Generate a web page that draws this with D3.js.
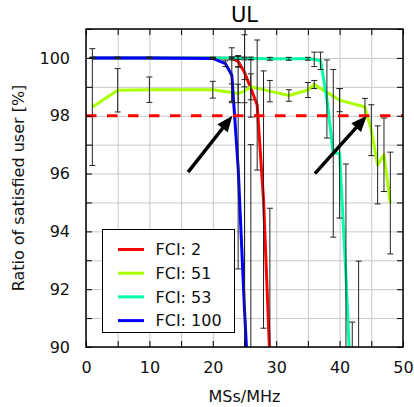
<!DOCTYPE html>
<meta charset="utf-8">
<body>
<script src="https://cdn.jsdelivr.net/npm/d3@7"></script>
<style>
    html, body {
        margin: 0;
        background: #fff;
    }
    text {
        font-family: "DejaVu Sans", sans-serif;
    }
</style>
<script>
// values
var fci2X = [1, 5, 10, 20, 23, 24, 25, 26, 27, 28, 29],
    fci2Y = [100, 100, 100, 100, 99.98, 99.88, 99.5, 98.95, 98.37, 95.1, 89.6],
    fci2E = [0.02, 0.02, 0.02, 0.02, 0.05, 0.2, 0.5, 1.0, 2.25, 4.45, 5.2];

var fci51X = [1, 5, 10, 20, 23, 24, 25, 26, 29, 32, 35, 36, 40, 44, 45, 46, 47, 48],
    fci51Y = [98.3, 98.88, 98.9, 98.9, 98.8, 98.77, 98.85, 99.0, 98.85, 98.7, 98.89, 99.08, 98.54, 98.3, 97.5, 96.3, 96.65, 94.98],
    fci51E = [2.02, 0.75, 0.44, 0.29, 0.3, 0.32, 0.4, 0.45, 0.37, 0.2, 0.26, 0.14, 0.4, 0.3, 0.88, 1.35, 1.27, 1.76];

var fci53X = [1, 5, 10, 20, 23, 24, 25, 26, 29, 32, 35, 36, 37, 38, 39, 40, 41, 42, 43],
    fci53Y = [100, 100, 100, 100, 100, 100, 99.98, 99.98, 99.97, 99.97, 99.97, 99.95, 99.9, 98.58, 96.7, 96.7, 92.5, 87.5, 85],
    fci53E = [0.02, 0.02, 0.02, 0.02, 0.03, 0.05, 0.05, 0.05, 0.05, 0.05, 0.05, 0.25, 0.3, 1.35, 2.9, 2.24, 3.83, 3.36, 7.97];

var fci100X = [1, 5, 10, 20, 22, 23, 24, 25, 26],
    fci100Y = [100, 100, 100, 99.98, 99.8, 99.4, 96.2, 91.3, 87],
    fci100E = [0.02, 0.02, 0.02, 0.03, 0.1, 0.95, 3.5, 9.5, 10];

var seriesNames = ["FCI: 2", "FCI: 51", "FCI: 53", "FCI: 100"],
    seriesColors = ["#ff0000", "#aaff00", "#00ffaa", "#0000ff"];

var threshold = 98;
var arrowFrom = [[16.1, 96.05], [36.1, 96.0]],
    arrowTo = [[23.1, 98.0], [44.3, 98.0]];

var xTicks = d3.range(0, 51, 5),
    yTicks = d3.range(90, 102, 1);

var W = 414, H = 407,
    pLeft = 86, pRight = 403, pTop = 29, pBottom = 347;

var series = [
    {x: fci2X, y: fci2Y, e: fci2E},
    {x: fci51X, y: fci51Y, e: fci51E},
    {x: fci53X, y: fci53Y, e: fci53E},
    {x: fci100X, y: fci100Y, e: fci100E}
].map(function(s, i) {
    return {
        name: seriesNames[i],
        color: seriesColors[i],
        points: s.x.map(function(v, j) { return {x: v, y: s.y[j], e: s.e[j]}; })
    };
});

var x = d3.scaleLinear().domain([0, 50]).range([pLeft, pRight]),
    y = d3.scaleLinear().domain([90, 101]).range([pBottom, pTop]);

var svg = d3.select("body").append("svg")
    .attr("width", W)
    .attr("height", H);

svg.append("defs").append("clipPath").attr("id", "plot")
    .append("rect")
    .attr("x", pLeft).attr("y", pTop)
    .attr("width", pRight - pLeft).attr("height", pBottom - pTop);

// grid
svg.append("g")
    .attr("transform", "translate(0," + pBottom + ")")
    .call(d3.axisBottom(x).tickValues(xTicks).tickSize(-(pBottom - pTop)).tickFormat(""))
    .call(function(g) {
        g.select(".domain").remove();
        g.selectAll("line").attr("stroke", "#c8c8c8");
    });
svg.append("g")
    .attr("transform", "translate(" + pLeft + ",0)")
    .call(d3.axisLeft(y).tickValues(yTicks).tickSize(-(pRight - pLeft)).tickFormat(""))
    .call(function(g) {
        g.select(".domain").remove();
        g.selectAll("line").attr("stroke", "#c8c8c8");
    });

var plot = svg.append("g").attr("clip-path", "url(#plot)");

var line = d3.line()
    .x(function(d) { return x(d.x); })
    .y(function(d) { return y(d.y); });

plot.selectAll(".series")
    .data(series)
    .enter().append("path")
    .attr("class", "series")
    .attr("fill", "none")
    .attr("stroke", function(d) { return d.color; })
    .attr("stroke-width", 3)
    .attr("stroke-linejoin", "round")
    .attr("d", function(d) { return line(d.points); });

// error bars
var bars = plot.selectAll(".bars")
    .data(series)
    .enter().append("g")
    .selectAll("g")
    .data(function(d) { return d.points; })
    .enter().append("g")
    .attr("stroke", "#222")
    .attr("stroke-width", 1);

bars.append("line")
    .attr("x1", function(d) { return x(d.x); })
    .attr("x2", function(d) { return x(d.x); })
    .attr("y1", function(d) { return y(d.y + d.e); })
    .attr("y2", function(d) { return y(d.y - d.e); });
bars.append("line")
    .attr("x1", function(d) { return x(d.x) - 3; })
    .attr("x2", function(d) { return x(d.x) + 3; })
    .attr("y1", function(d) { return y(d.y + d.e); })
    .attr("y2", function(d) { return y(d.y + d.e); });
bars.append("line")
    .attr("x1", function(d) { return x(d.x) - 3; })
    .attr("x2", function(d) { return x(d.x) + 3; })
    .attr("y1", function(d) { return y(d.y - d.e); })
    .attr("y2", function(d) { return y(d.y - d.e); });

// 98% line
plot.append("line")
    .attr("x1", x(0)).attr("x2", x(50))
    .attr("y1", y(threshold)).attr("y2", y(threshold))
    .attr("stroke", "#ff0000")
    .attr("stroke-width", 3)
    .attr("stroke-dasharray", "10.5,10.5");

// arrows
arrowFrom.forEach(function(f, i) {
    var x0 = x(f[0]), y0 = y(f[1]),
        x1 = x(arrowTo[i][0]), y1 = y(arrowTo[i][1]),
        a = Math.atan2(y1 - y0, x1 - x0),
        hl = 16, hw = 6.5,
        bx = x1 - hl * Math.cos(a), by = y1 - hl * Math.sin(a);
    svg.append("line")
        .attr("x1", x0).attr("y1", y0)
        .attr("x2", bx + 2 * Math.cos(a)).attr("y2", by + 2 * Math.sin(a))
        .attr("stroke", "#000")
        .attr("stroke-width", 3.5);
    svg.append("path")
        .attr("fill", "#000")
        .attr("d", "M" + [x1, y1] +
            "L" + [bx + hw * Math.sin(a), by - hw * Math.cos(a)] +
            "L" + [bx - hw * Math.sin(a), by + hw * Math.cos(a)] + "Z");
});

// axes with inward ticks
function styleAxis(g) {
    g.select(".domain").remove();
    g.selectAll("line").attr("stroke", "#000");
    g.selectAll("text").attr("font-size", 16).attr("fill", "#111")
        .style("font-family", "'DejaVu Sans', sans-serif");
}
svg.append("g")
    .attr("transform", "translate(0," + pBottom + ")")
    .call(d3.axisBottom(x).tickValues(xTicks).tickSizeInner(-6).tickSizeOuter(0).tickPadding(15)
        .tickFormat(function(d) { return d % 10 === 0 ? d : ""; }))
    .call(styleAxis);
svg.append("g")
    .attr("transform", "translate(0," + pTop + ")")
    .call(d3.axisTop(x).tickValues(xTicks).tickSizeInner(-6).tickSizeOuter(0).tickFormat(""))
    .call(styleAxis);
svg.append("g")
    .attr("transform", "translate(" + pLeft + ",0)")
    .call(d3.axisLeft(y).tickValues(yTicks).tickSizeInner(-6).tickSizeOuter(0).tickPadding(16)
        .tickFormat(function(d) { return d % 2 === 0 ? d : ""; }))
    .call(styleAxis);
svg.append("g")
    .attr("transform", "translate(" + pRight + ",0)")
    .call(d3.axisRight(y).tickValues(yTicks).tickSizeInner(-6).tickSizeOuter(0).tickFormat(""))
    .call(styleAxis);

svg.append("rect")
    .attr("x", pLeft).attr("y", pTop)
    .attr("width", pRight - pLeft).attr("height", pBottom - pTop)
    .attr("fill", "none")
    .attr("stroke", "#000")
    .attr("stroke-width", 1.5);

// legend
var legend = svg.append("g");
legend.append("rect")
    .attr("x", 102.5).attr("y", 229.5)
    .attr("width", 132).attr("height", 103)
    .attr("fill", "#fff")
    .attr("stroke", "#000")
    .attr("stroke-width", 1);
var item = legend.selectAll(".item")
    .data(series)
    .enter().append("g")
    .attr("transform", function(d, i) { return "translate(0," + (249.5 + i * 23.7) + ")"; });
item.append("line")
    .attr("x1", 118).attr("x2", 144)
    .attr("stroke", function(d) { return d.color; })
    .attr("stroke-width", 3);
item.append("text")
    .attr("x", 155.5)
    .attr("dy", "0.35em")
    .attr("font-size", 16)
    .attr("fill", "#111")
    .text(function(d) { return d.name; });

// titles
svg.append("text")
    .attr("x", (pLeft + pRight) / 2)
    .attr("y", 22)
    .attr("text-anchor", "middle")
    .attr("font-size", 21)
    .text("UL");
svg.append("text")
    .attr("x", (pLeft + pRight) / 2)
    .attr("y", 402)
    .attr("text-anchor", "middle")
    .attr("font-size", 16)
    .attr("fill", "#111")
    .text("MSs/MHz");
svg.append("text")
    .attr("transform", "translate(24," + (pTop + pBottom) / 2 + ") rotate(-90)")
    .attr("text-anchor", "middle")
    .attr("font-size", 16)
    .attr("fill", "#111")
    .text("Ratio of satisfied user [%]");
</script>
